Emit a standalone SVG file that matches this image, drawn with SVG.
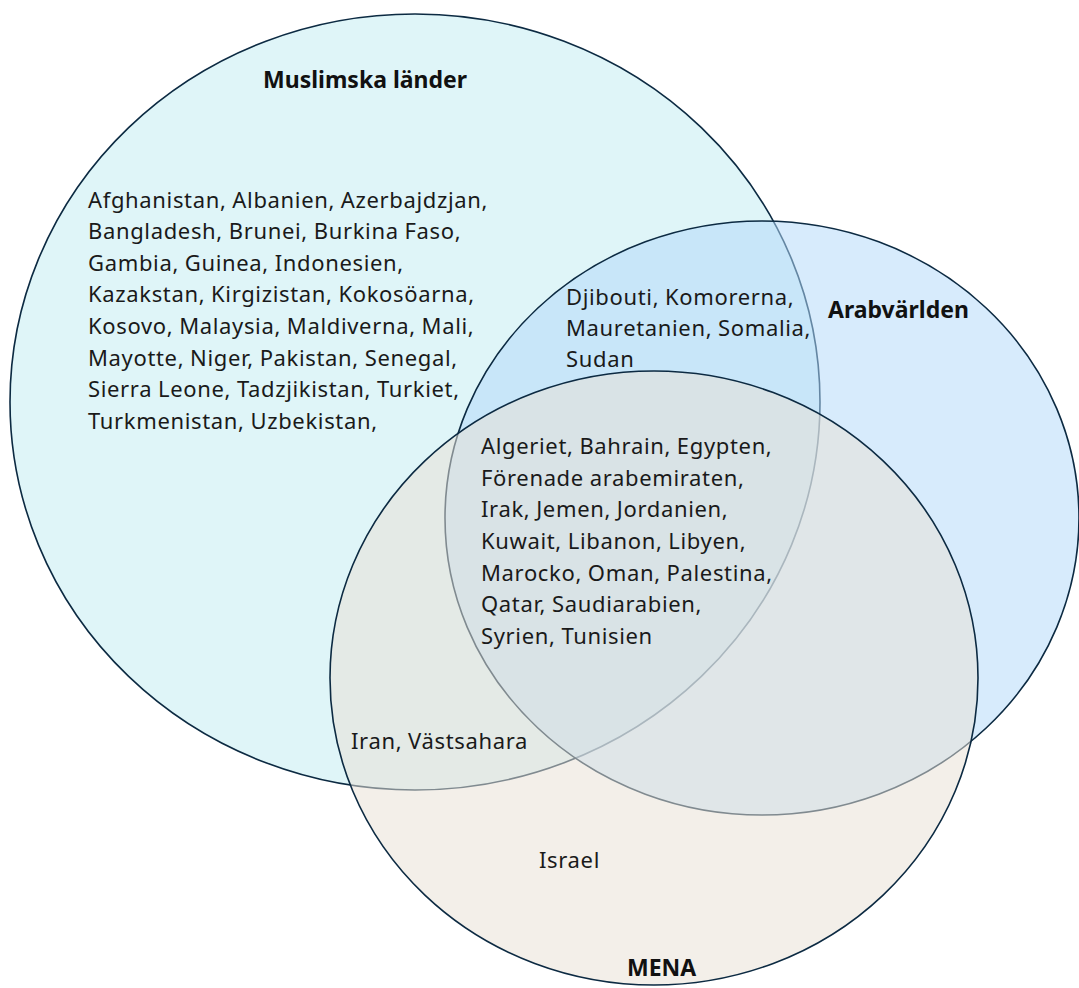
<svg xmlns="http://www.w3.org/2000/svg" width="1079" height="988" viewBox="0 0 1079 988">
<style>
.set{stroke:#0c2a42;stroke-width:1.6}
.t{font-family:"Noto Sans","Liberation Sans",sans-serif;font-size:22px;letter-spacing:0.65px;word-spacing:-0.5px;fill:#1a1a1a}
.h{font-family:"Noto Sans","Liberation Sans",sans-serif;font-size:23px;font-weight:bold;fill:#111}
</style>
<rect width="1079" height="988" fill="#ffffff"/>
<g id="muslimska">
<ellipse class="set" cx="415" cy="402" rx="405" ry="388" fill="#dff5f8"/>
</g>
<g id="arabvarlden">
<ellipse class="set" cx="762" cy="518" rx="317" ry="297" fill="#b4d9f9" fill-opacity="0.53"/>
</g>
<g id="mena">
<ellipse class="set" cx="654" cy="678" rx="324" ry="307" fill="#e8e1d5" fill-opacity="0.53"/>
</g>
<g id="labels">
<text class="h" x="263" y="88">Muslimska länder</text>
<text class="h" x="828" y="318">Arabvärlden</text>
<text class="h" x="627" y="976">MENA</text>
</g>
<g id="muslim-only">
<text class="t" x="88" y="208">Afghanistan, Albanien, Azerbajdzjan,</text>
<text class="t" x="88" y="239">Bangladesh, Brunei, Burkina Faso,</text>
<text class="t" x="88" y="271">Gambia, Guinea, Indonesien,</text>
<text class="t" x="88" y="302">Kazakstan, Kirgizistan, Kokosöarna,</text>
<text class="t" x="88" y="334">Kosovo, Malaysia, Maldiverna, Mali,</text>
<text class="t" x="88" y="366">Mayotte, Niger, Pakistan, Senegal,</text>
<text class="t" x="88" y="397">Sierra Leone, Tadzjikistan, Turkiet,</text>
<text class="t" x="88" y="429">Turkmenistan, Uzbekistan,</text>
</g>
<g id="muslim-arab">
<text class="t" x="566" y="305">Djibouti, Komorerna,</text>
<text class="t" x="566" y="336">Mauretanien, Somalia,</text>
<text class="t" x="566" y="367">Sudan</text>
</g>
<g id="all-three">
<text class="t" x="481" y="454">Algeriet, Bahrain, Egypten,</text>
<text class="t" x="481" y="486">Förenade arabemiraten,</text>
<text class="t" x="481" y="517">Irak, Jemen, Jordanien,</text>
<text class="t" x="481" y="549">Kuwait, Libanon, Libyen,</text>
<text class="t" x="481" y="581">Marocko, Oman, Palestina,</text>
<text class="t" x="481" y="612">Qatar, Saudiarabien,</text>
<text class="t" x="481" y="644">Syrien, Tunisien</text>
</g>
<g id="muslim-mena">
<text class="t" x="351" y="749">Iran, Västsahara</text>
</g>
<g id="mena-only">
<text class="t" x="539" y="868">Israel</text>
</g>
<g id="connectors"></g>
</svg>
